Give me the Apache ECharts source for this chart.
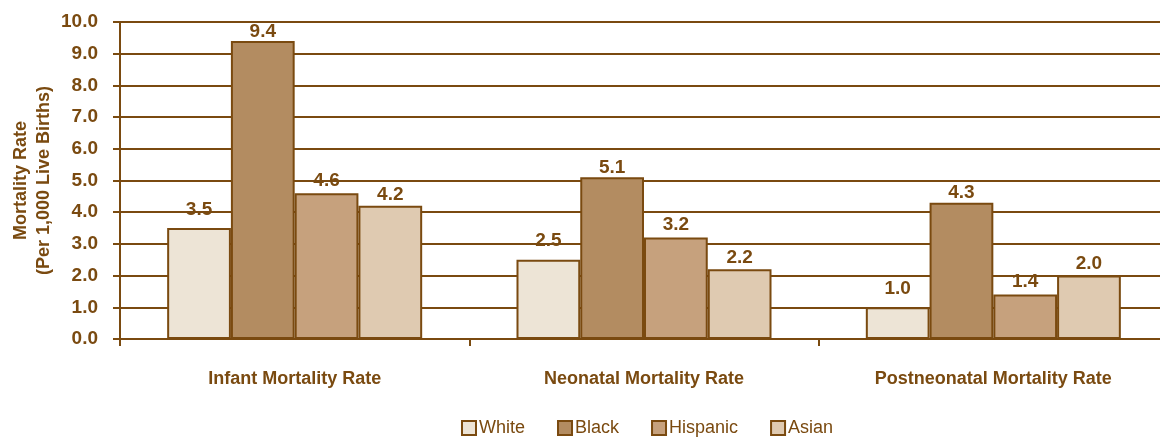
<!DOCTYPE html>
<html lang="en">
<head>
    <meta charset="UTF-8">
    <title>Mortality Rate by Race</title>
    <script src="https://cdn.jsdelivr.net/npm/echarts@6.0.0/dist/echarts.min.js"></script>
    <style>
        body { padding: 0; margin: 0; background: #fff; }
        #chart { width: 1160px; height: 441px; }
    </style>
</head>
<body>
    <div id="chart"></div>

    <script>
        const categories = ['Infant Mortality Rate', 'Neonatal Mortality Rate', 'Postneonatal Mortality Rate'];
        const white = [3.5, 2.5, 1.0];
        const black = [9.4, 5.1, 4.3];
        const hispanic = [4.6, 3.2, 1.4];
        const asian = [4.2, 2.2, 2.0];
        const seriesNames = ['White', 'Black', 'Hispanic', 'Asian'];
        const colors = ['#EDE4D6', '#B38C61', '#C6A17D', '#DFCAB1'];

        const brown = '#7A4A10';
        const font = '"Liberation Sans", Arial, sans-serif';

        const chart = echarts.init(document.getElementById('chart'));

        // labelGap: how far the value label sits above its bar (varies a bit per series in the original)
        function makeSeries(name, data, color, labelGap) {
            return {
                name: name,
                type: 'bar',
                data: data,
                barGap: '0%',
                barCategoryGap: '27%',
                itemStyle: { color: color, borderColor: brown, borderWidth: 2 },
                label: {
                    show: true,
                    position: 'top',
                    distance: labelGap,
                    color: brown,
                    fontFamily: font,
                    fontWeight: 'bold',
                    fontSize: 19,
                    formatter: p => p.value.toFixed(1)
                }
            };
        }

        chart.setOption({
            animation: false,
            // plot runs a little past the right edge, like the original
            grid: { left: 120, width: 1048, top: 22, bottom: 102, outerBoundsMode: 'none' },
            legend: {
                top: 414,
                left: 456,
                icon: 'rect',
                itemWidth: 14,
                itemHeight: 14,
                itemGap: 32,
                textStyle: { color: brown, fontFamily: '"Liberation Sans Narrow", ' + font, fontSize: 18, padding: [0, 0, 0, -2] },
                data: seriesNames.map(n => ({ name: n, itemStyle: { borderColor: brown, borderWidth: 2 } }))
            },
            xAxis: {
                type: 'category',
                data: categories,
                axisLine: { lineStyle: { color: brown, width: 2 } },
                axisTick: { show: true, length: 7, lineStyle: { color: brown, width: 2 } },
                axisLabel: { color: brown, fontFamily: font, fontWeight: 'bold', fontSize: 18, margin: 31 }
            },
            yAxis: {
                type: 'value',
                min: 0,
                max: 10,
                interval: 1,
                name: 'Mortality Rate\n(Per 1,000 Live Births)',
                nameLocation: 'middle',
                nameGap: 64,
                nameMoveOverlap: false,
                nameTextStyle: { color: brown, fontFamily: font, fontWeight: 'bold', fontSize: 18, lineHeight: 23 },
                axisLine: { show: true, lineStyle: { color: brown, width: 2 } },
                axisTick: { show: true, length: 7, lineStyle: { color: brown, width: 2 } },
                axisLabel: { color: brown, fontFamily: font, fontWeight: 'bold', fontSize: 19, margin: 22, formatter: v => v.toFixed(1) },
                splitLine: { lineStyle: { color: brown, width: 2 } }
            },
            series: [
                makeSeries('White', white, colors[0], 9),
                makeSeries('Black', black, colors[1], 0),
                makeSeries('Hispanic', hispanic, colors[2], 3),
                makeSeries('Asian', asian, colors[3], 2)
            ]
        });
    </script>
</body>
</html>
